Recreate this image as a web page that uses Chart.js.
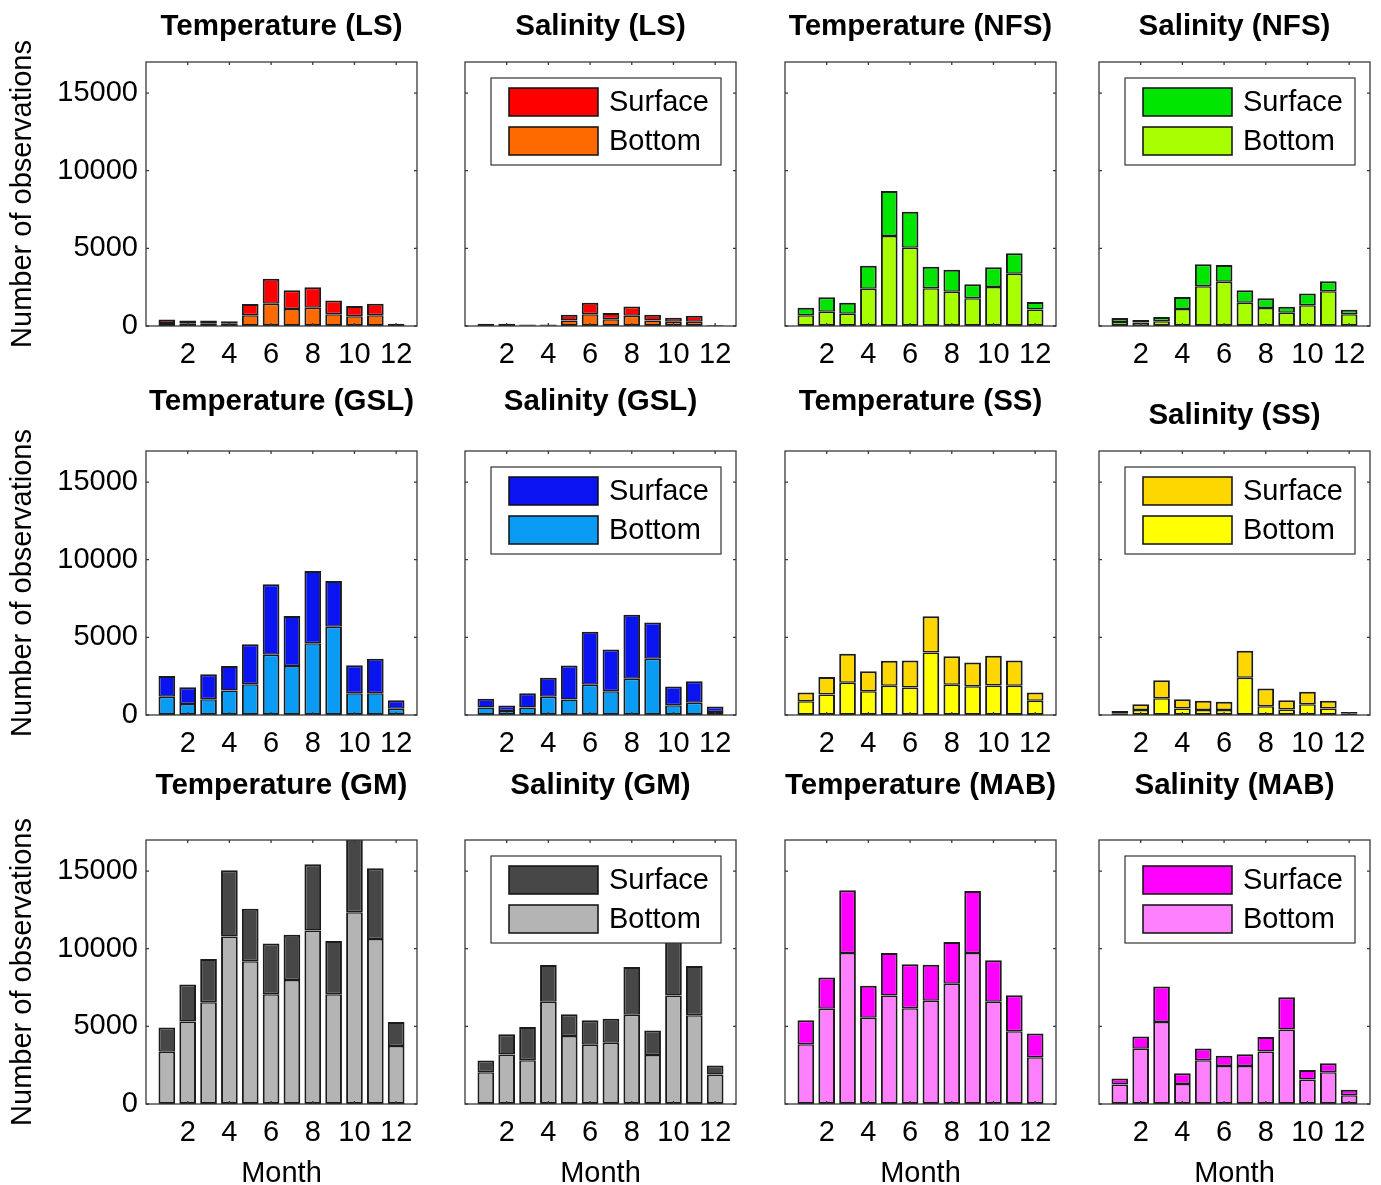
<!DOCTYPE html>
<html><head><meta charset="utf-8">
<script src="https://cdn.jsdelivr.net/npm/chart.js@4.4.1/dist/chart.umd.min.js"></script>
<style>
html,body{margin:0;padding:0;background:#fff;width:1381px;height:1185px;overflow:hidden;position:relative}
canvas{position:absolute}
</style></head><body>
<script>
// ---------- data ----------
const months = [1,2,3,4,5,6,7,8,9,10,11,12];
const xTickValues = [2,4,6,8,10,12];
const yTickValues = [0,5000,10000,15000];
const seriesLabels = ['Surface','Bottom'];
const xAxisTitle = 'Month';
const yAxisTitle = 'Number of observations';

const tempLS_surface = [220,170,170,150,730,1610,1200,1310,900,670,750,90];
const tempLS_bottom  = [200,180,180,150,690,1440,1100,1180,750,620,690,60];
const salLS_surface  = [80,80,50,50,370,740,390,600,370,260,390,30];
const salLS_bottom   = [70,70,50,50,350,760,440,660,350,270,270,30];
const tempNFS_surface = [490,930,710,1480,2890,2320,1390,1420,910,1270,1310,480];
const tempNFS_bottom  = [690,920,790,2400,5800,5040,2430,2210,1780,2510,3370,1070];
const salNFS_surface  = [260,160,280,770,1410,1080,800,620,380,770,650,300];
const salNFS_bottom   = [260,230,300,1100,2560,2850,1500,1160,860,1330,2230,750];

const tempGSL_surface = [1330,1070,1610,1590,2570,4540,3220,4660,2940,1800,2230,540];
const tempGSL_bottom  = [1180,710,1010,1570,1980,3880,3160,4620,5690,1400,1400,410];
const salGSL_surface  = [560,360,920,1230,2190,3420,2690,4120,2340,1210,1390,350];
const salGSL_bottom   = [480,250,480,1170,1000,1940,1530,2330,3620,630,790,200];
const tempSS_surface = [560,1120,1870,1290,1610,1740,2340,1850,1530,1910,1630,540];
const tempSS_bottom  = [890,1320,2070,1530,1880,1770,4020,1940,1850,1900,1880,910];
const salSS_surface  = [130,370,1160,600,580,520,1730,1140,600,790,490,120];
const salSS_bottom   = [120,330,1080,420,330,330,2400,570,350,700,420,80];

const tempGM_surface = [1570,2370,2780,4270,3380,3270,2910,4260,3420,5160,4560,1540];
const tempGM_bottom  = [3360,5320,6550,10790,9200,7070,7990,11180,7070,12340,10620,3740];
const salGM_surface  = [750,1300,2140,2360,1400,1580,1550,3070,1590,4020,3170,580];
const salGM_bottom   = [2050,3190,2820,6590,4380,3810,3940,5750,3150,6980,5710,1900];
const tempMAB_surface = [1550,2010,4040,2070,2750,2840,2310,2680,4000,2670,2310,1530];
const tempMAB_bottom  = [3850,6130,9720,5550,6980,6160,6650,7750,9720,6590,4690,3010];
const salMAB_surface  = [390,800,2280,690,750,650,760,930,2070,620,580,360];
const salMAB_bottom   = [1250,3550,5280,1290,2820,2450,2450,3380,4800,1570,2040,560];

// ---------- layout / style ----------
const FONT = 'Liberation Sans, Arial, Helvetica, sans-serif';
Chart.defaults.font.family = FONT;
const plotLefts = [146,465,785,1099];
const plotTops = [62,451,840];
const PW = 271, PH = 264;
const EDGE = 'rgba(15,15,15,0.95)';

const panels = [
  [
    {title:'Temperature (LS)', s:tempLS_surface, b:tempLS_bottom, c:['#FF0000','#FF6A00'], legend:false, off:37},
    {title:'Salinity (LS)', s:salLS_surface, b:salLS_bottom, c:['#FF0000','#FF6A00'], legend:true, off:37},
    {title:'Temperature (NFS)', s:tempNFS_surface, b:tempNFS_bottom, c:['#00E600','#A8FF00'], legend:false, off:37},
    {title:'Salinity (NFS)', s:salNFS_surface, b:salNFS_bottom, c:['#00E600','#A8FF00'], legend:true, off:37}
  ],
  [
    {title:'Temperature (GSL)', s:tempGSL_surface, b:tempGSL_bottom, c:['#0A14F0','#0A9CF5'], legend:false, off:51},
    {title:'Salinity (GSL)', s:salGSL_surface, b:salGSL_bottom, c:['#0A14F0','#0A9CF5'], legend:true, off:51},
    {title:'Temperature (SS)', s:tempSS_surface, b:tempSS_bottom, c:['#FFD700','#FFFF00'], legend:false, off:51},
    {title:'Salinity (SS)', s:salSS_surface, b:salSS_bottom, c:['#FFD700','#FFFF00'], legend:true, off:37}
  ],
  [
    {title:'Temperature (GM)', s:tempGM_surface, b:tempGM_bottom, c:['#474747','#B4B4B4'], legend:false, off:56},
    {title:'Salinity (GM)', s:salGM_surface, b:salGM_bottom, c:['#474747','#B4B4B4'], legend:true, off:56},
    {title:'Temperature (MAB)', s:tempMAB_surface, b:tempMAB_bottom, c:['#FF00FF','#FF80FF'], legend:false, off:56},
    {title:'Salinity (MAB)', s:salMAB_surface, b:salMAB_bottom, c:['#FF00FF','#FF80FF'], legend:true, off:56}
  ]
];

const legendPlugin = {
  id:'boxLegend',
  afterDatasetsDraw(chart, args, opts) {
    if (!opts.show) return;
    const {ctx, chartArea:a} = chart;
    const bx = a.left + 26, by = a.top + 16, bw = 230, bh = 87;
    ctx.save();
    ctx.fillStyle = '#fff';
    ctx.fillRect(bx, by, bw, bh);
    ctx.strokeStyle = '#333';
    ctx.lineWidth = 1.2;
    ctx.strokeRect(bx, by, bw, bh);
    const items = chart.data.datasets.slice().reverse();
    items.forEach((ds, k) => {
      const sy = by + 10 + k * 39;
      ctx.fillStyle = ds.backgroundColor;
      ctx.fillRect(bx + 18, sy, 89, 28);
      ctx.strokeStyle = EDGE;
      ctx.lineWidth = 1.6;
      ctx.strokeRect(bx + 18, sy, 89, 28);
      ctx.fillStyle = '#000';
      ctx.font = '29px ' + FONT;
      ctx.textBaseline = 'middle';
      ctx.textAlign = 'left';
      ctx.fillText(ds.label, bx + 118, sy + 15);
    });
    ctx.restore();
  }
};

const framePlugin = {
  id:'frameBox',
  afterDraw(chart) {
    const {ctx, chartArea:a, scales:{x, y}} = chart;
    ctx.save();
    ctx.strokeStyle = '#3a3a3a';
    ctx.lineWidth = 1.3;
    ctx.strokeRect(a.left, a.top, a.right - a.left, a.bottom - a.top);
    const tl = 3;
    ctx.beginPath();
    xTickValues.forEach(v => {
      const px = x.getPixelForValue(v);
      ctx.moveTo(px, a.bottom); ctx.lineTo(px, a.bottom - tl);
      ctx.moveTo(px, a.top); ctx.lineTo(px, a.top + tl);
    });
    yTickValues.forEach(v => {
      const py = y.getPixelForValue(v);
      ctx.moveTo(a.left, py); ctx.lineTo(a.left + tl, py);
      ctx.moveTo(a.right, py); ctx.lineTo(a.right - tl, py);
    });
    ctx.stroke();
    ctx.restore();
  }
};

function makeChart(p, row, col) {
  const L = col === 0 ? 146 : 12;
  const R = 12;
  const T = 80;
  const B = row === 2 ? 90 : 50;
  const cv = document.createElement('canvas');
  cv.width = L + PW + R;
  cv.height = T + PH + B;
  cv.style.left = (plotLefts[col] - L) + 'px';
  cv.style.top = (plotTops[row] - T) + 'px';
  cv.style.width = cv.width + 'px';
  cv.style.height = cv.height + 'px';
  document.body.appendChild(cv);
  const pTop = 64.6 - p.off;
  const tickFont = {family:FONT, size:29, lineHeight:1.2};
  const mk = (arr) => months.map((m, i) => ({x:m, y:arr[i]}));
  new Chart(cv, {
    type:'bar',
    data:{datasets:[
      {label:seriesLabels[1], data:mk(p.b), backgroundColor:p.c[1], borderColor:EDGE,
       borderWidth:{top:1.5,left:2,right:2,bottom:2}, borderSkipped:false, barPercentage:0.8, categoryPercentage:1},
      {label:seriesLabels[0], data:mk(p.s), backgroundColor:p.c[0], borderColor:EDGE,
       borderWidth:{top:2,left:2,right:2,bottom:1.5}, borderSkipped:false, barPercentage:0.8, categoryPercentage:1}
    ]},
    options:{
      responsive:false, animation:false, devicePixelRatio:1,
      layout:{padding:{left:0, right:R, top:0, bottom:0}},
      plugins:{
        legend:{display:false},
        tooltip:{enabled:false},
        title:{display:true, text:p.title, fullSize:false, color:'#000',
               font:{family:FONT, size:29.5, weight:'bold', lineHeight:1.2},
               padding:{top:pTop, bottom:44.6 - pTop}},
        boxLegend:{show:p.legend}
      },
      scales:{
        x:{type:'linear', min:0, max:13, stacked:true, offset:false,
           grid:{display:false, drawTicks:false}, border:{display:false},
           afterBuildTicks:s => { s.ticks = xTickValues.map(v => ({value:v})); },
           ticks:{font:tickFont, color:'#000', padding:11.5, maxRotation:0, autoSkip:false, callback:v => String(v)},
           afterFit:s => { s.height = B; },
           title:{display:row === 2, text:xAxisTitle, color:'#000', font:tickFont, padding:{top:0, bottom:3}}},
        y:{min:0, max:17000, stacked:true,
           grid:{display:false, drawTicks:false}, border:{display:false},
           afterBuildTicks:s => { s.ticks = yTickValues.map(v => ({value:v})); },
           ticks:{display:col === 0, font:tickFont, color:'#000', padding:8, callback:v => String(v)},
           afterFit:s => { s.width = L; },
           title:{display:col === 0, text:yAxisTitle, color:'#000', font:tickFont, padding:{top:5.6, bottom:0}}}
      }
    },
    plugins:[legendPlugin, framePlugin]
  });
}

panels.forEach((rowPanels, r) => rowPanels.forEach((p, c) => makeChart(p, r, c)));
</script>
</body></html>
